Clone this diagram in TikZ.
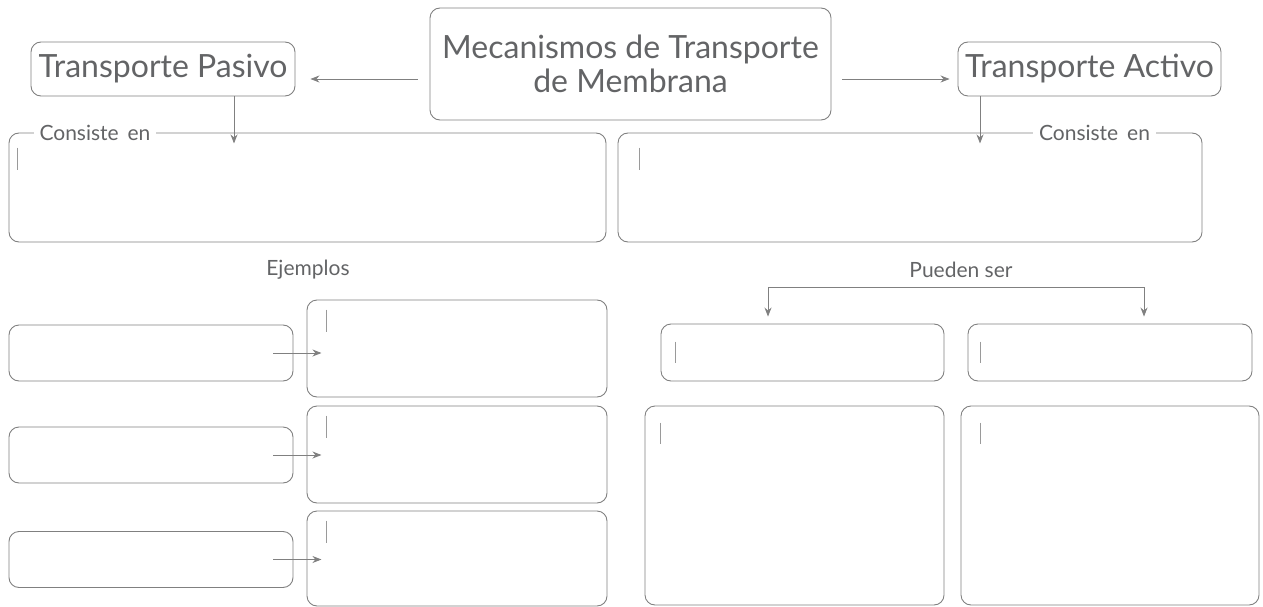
\documentclass[tikz,border=0pt]{standalone}
\usepackage{fontspec}
\setmainfont{Lato}
\usetikzlibrary{arrows.meta}
\definecolor{T1}{HTML}{636466}
\definecolor{L1}{HTML}{808080}
\definecolor{C1}{HTML}{9A9A9A}
\tikzset{BOX/.style 2 args = {
    rectangle,
    rounded corners = 10pt,
    minimum width = #1,
    minimum height = #2,
    inner sep = 0pt,
    draw = L1,
}}
\tikzset{LBL/.style = {text = T1, inner sep = 3pt}}
\tikzset{ARR/.style = {L1, -{Stealth[length=9pt,width=7pt]}}}
\tikzset{CUR/.style = {C1, line width = 1pt}}

\begin{document}
\begin{tikzpicture}[x=1pt,y=-1pt,line width=0.9pt]
  \useasboundingbox (0,0) rectangle (1263,607);
  % top row
  \node[BOX={401}{112},LBL,align=center,font=\fontsize{32}{34}\selectfont](title) at (630.5,64) {Mecanismos de Transporte\\de Membrana};
  \node[BOX={264}{54},LBL,font=\fontsize{32}{34}\selectfont](pas) at (163,69) {Transporte Pasivo};
  \node[BOX={263}{54},LBL,font=\fontsize{32}{34}\selectfont](act) at (1089.5,69) {Transporte Activo};
  \draw[ARR]([shift={(-12,15)}]title.west) -- ([shift={(15,10)}]pas.east);
  \draw[ARR]([shift={(11,15)}]title.east) -- ([shift={(-8,10)}]act.west);
  % consiste en
  \node[BOX={597}{109}](consL) at (307.5,187.5) {};
  \node[BOX={584}{109}](consR) at (910,187.5) {};
  \node[LBL,fill=white,inner xsep=6pt,font=\fontsize{21}{23}\selectfont](cenL) at (95,133) {Consiste\, en};
  \node[LBL,fill=white,inner xsep=6pt,font=\fontsize{21}{23}\selectfont](cenR) at (1094.5,133) {Consiste\, en};
  \draw[ARR]([xshift=71]pas.south) -- ++(0,47);
  \draw[ARR]([xshift=-109.5]act.south) -- ++(0,47);
  % ejemplos
  \node[LBL,font=\fontsize{21}{23}\selectfont](ej) at (308,270) {Ejemplos};
  \node[BOX={284}{56}](lb1) at (151,353) {};
  \node[BOX={284}{56}](lb2) at (151,455) {};
  \node[BOX={284}{56}](lb3) at (151,559.5) {};
  \node[BOX={300}{97}](rb1) at (457,348.5) {};
  \node[BOX={300}{97}](rb2) at (457,454.5) {};
  \node[BOX={300}{95}](rb3) at (457,558.5) {};
  \draw[ARR]([xshift=-20]lb1.east) -- ++(48,0);
  \draw[ARR]([xshift=-20]lb2.east) -- ++(48,0);
  \draw[ARR]([xshift=-20]lb3.east) -- ++(48,0);
  % pueden ser
  \node[LBL,font=\fontsize{21}{23}\selectfont](ps) at (961,270) {Pueden ser};
  \node[BOX={283}{57}](tl) at (802.5,352.5) {};
  \node[BOX={284}{57}](tr) at (1110,352.5) {};
  \node[BOX={299}{199}](bl) at (794.5,505.5) {};
  \node[BOX={298}{199}](br) at (1110,505.5) {};
  \draw[ARR,{Stealth[length=9pt,width=7pt]}-{Stealth[length=9pt,width=7pt]}]
    ([shift={(-34.5,-7)}]tl.north) -- ++(0,-29) -| ([shift={(34,-7)}]tr.north);
  % cursors
  \draw[CUR]([shift={(9,15)}]consL.north west) -- ++(0,22);
  \draw[CUR]([shift={(22,15)}]consR.north west) -- ++(0,22);
  \draw[CUR]([shift={(20,10)}]rb1.north west) -- ++(0,22);
  \draw[CUR]([shift={(20,10)}]rb2.north west) -- ++(0,22);
  \draw[CUR]([shift={(20,10)}]rb3.north west) -- ++(0,22);
  \draw[CUR]([shift={(15,18)}]tl.north west) -- ++(0,21);
  \draw[CUR]([shift={(13,18)}]tr.north west) -- ++(0,21);
  \draw[CUR]([shift={(16,17)}]bl.north west) -- ++(0,21);
  \draw[CUR]([shift={(20,17)}]br.north west) -- ++(0,21);
\end{tikzpicture}
\end{document}
